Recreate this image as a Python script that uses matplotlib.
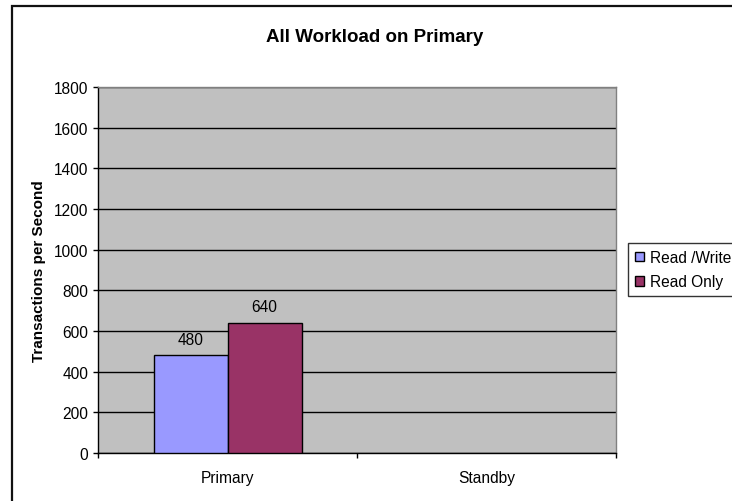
import numpy as np
import matplotlib
matplotlib.use("Agg")
import matplotlib.pyplot as plt
from matplotlib.patches import Rectangle

plt.rcParams['font.family'] = ['Liberation Sans', 'DejaVu Sans']

categories = ["Primary", "Standby"]
series_names = ["Read /Write", "Read Only"]
read_write = [480, np.nan]
read_only = [640, np.nan]
yticks = [0, 200, 400, 600, 800, 1000, 1200, 1400, 1600, 1800]
title = "All Workload on Primary"
ylabel = "Transactions per Second"

colors = ["#9999FF", "#993366"]

W, H = 732, 502
fig = plt.figure(figsize=(W / 100, H / 100), dpi=100)
fig.patch.set_facecolor("white")

# outer frame (extends beyond the right/bottom edge)
fig.patches.append(Rectangle((12 / W, -0.05), 1.2, 1 - 7 / H + 0.05,
                             transform=fig.transFigure, fill=False,
                             edgecolor="#111111", linewidth=1.6))

left, right, top, bottom = 98, 616, 88, 454
ax = fig.add_axes([left / W, 1 - bottom / H, (right - left) / W, (bottom - top) / H])
ax.set_facecolor("#C0C0C0")

x = np.arange(len(categories))
bw = 74 / 259
b1 = ax.bar(x - bw / 2, read_write, bw, color=colors[0], edgecolor="black",
            linewidth=1, label=series_names[0], zorder=3)
b2 = ax.bar(x + bw / 2, read_only, bw, color=colors[1], edgecolor="black",
            linewidth=1, label=series_names[1], zorder=3)

for bars, vals in ((b1, read_write), (b2, read_only)):
    for rect, v in zip(bars, vals):
        if np.isnan(v):
            continue
        ax.annotate(f"{v:g}", (rect.get_x() + rect.get_width() / 2, v),
                    xytext=(0, 11.8), textcoords="offset points",
                    ha="center", va="center", fontsize=11.2, color="black")

ax.set_ylim(0, 1800)
ax.set_xlim(-0.5, len(categories) - 0.5)
ax.set_yticks(yticks)
ax.set_yticklabels([str(t) for t in yticks])
ax.yaxis.grid(True, color="black", linewidth=1, zorder=0)
ax.set_axisbelow(True)

ax.set_xticks(np.arange(-0.5, len(categories), 1.0))
ax.set_xticklabels([])
ax.set_xticks(x, minor=True)
ax.set_xticklabels(categories, minor=True)
ax.tick_params(axis="x", which="major", length=3.6, width=1, color="black", direction="out")
ax.tick_params(axis="x", which="minor", length=0, pad=12.5, labelsize=11.2)
ax.tick_params(axis="y", length=3.6, width=1, color="black", direction="out",
               pad=3.4, labelsize=11.2)

for s in ("top", "right"):
    ax.spines[s].set_color("#808080")
    ax.spines[s].set_linewidth(1)
for s in ("left", "bottom"):
    ax.spines[s].set_color("black")
    ax.spines[s].set_linewidth(1)

ax.set_ylabel(ylabel, fontsize=11, fontweight="bold")
ax.yaxis.set_label_coords((46 - left) / (right - left), 0.5)

fig.text(375 / W, 1 - 42 / H, title, ha="center", va="baseline",
         fontsize=13.5, fontweight="bold")

leg = fig.legend(loc="upper left", bbox_to_anchor=(628 / W, 1 - 244 / H),
                 frameon=True, fancybox=False, edgecolor="black", fontsize=11.2,
                 handlelength=0.6, handleheight=0.6, handletextpad=0.35,
                 borderpad=0.45, labelspacing=0.6, borderaxespad=0)
leg.get_frame().set_linewidth(1)

fig.savefig("out.png", dpi=100)
